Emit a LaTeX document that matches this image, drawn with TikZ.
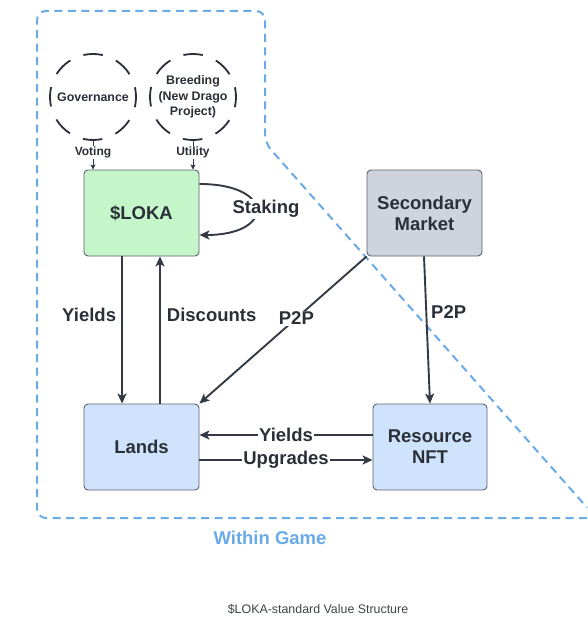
\documentclass[tikz,border=0pt]{standalone}
\usepackage{fontspec}
\setmainfont{Liberation Sans}
\usetikzlibrary{arrows.meta}
\definecolor{ink}{HTML}{2B3038}
\definecolor{edge}{HTML}{343A44}
\definecolor{bord}{HTML}{5C626C}
\definecolor{zone}{HTML}{6AAAE8}
\definecolor{lokagreen}{HTML}{C4F6CA}
\definecolor{smgray}{HTML}{CED3DC}
\definecolor{nftblue}{HTML}{CFE3FC}
\tikzset{
  boxnode/.style={draw=bord, line width=0.9pt, rounded corners=4pt, minimum width=115pt, minimum height=86pt, align=center, font=\fontsize{18.5}{21}\selectfont\bfseries, text=ink, inner sep=2pt},
  ringnode/.style={circle, draw=ink, line width=1.8pt, minimum size=86pt, inner sep=0pt, align=center, font=\fontsize{12.4}{15.5}\selectfont\bfseries, text=ink, dash pattern=on 19.5pt off 14.2pt, dash phase=9.75pt},
  arr/.style={draw=edge, line width=1.9pt, -{Stealth[length=10pt,width=9pt,inset=2.5pt]}},
  smallarr/.style={draw=edge, line width=0.9pt, -{Stealth[length=5pt,width=5pt,inset=1pt]}},
  elabel/.style={font=\fontsize{18.5}{21}\selectfont\bfseries, text=ink, inner sep=1pt},
  slabel/.style={font=\fontsize{12}{14}\selectfont\bfseries, text=ink, fill=white, inner sep=1pt},
  zoneline/.style={draw=zone, line width=2pt, dash pattern=on 8pt off 5.5pt}
}
\begin{document}
\begin{tikzpicture}[x=1pt,y=-1pt]
\useasboundingbox[fill=white] (0,0) rectangle (587,623);
% zone boundary
\draw[zoneline, rounded corners=9pt] (587,518) -- (37,518) -- (37,11) -- (265,11) -- (265,143) -- (587,507.5);
% rings
\node[ringnode] (gov) at (93,97) {Governance};
\node[ringnode] (bre) at (193,97) {Breeding\\(New Drago\\Project)};
% boxes
\node[boxnode, fill=lokagreen] (loka) at (141.5,213) {\$LOKA};
\node[boxnode, fill=smgray] (sm) at (424.5,213) {Secondary\\Market};
\node[boxnode, fill=nftblue] (lands) at (141.5,447) {Lands};
\node[boxnode, fill=nftblue, minimum width=114pt] (nft) at (430,447) {Resource\\NFT};
% small arrows
\draw[smallarr] (gov.south) -- node[slabel, pos=0.4] {Voting} (loka.north -| gov.south);
\draw[smallarr] (bre.south) -- node[slabel, pos=0.4] {Utility} (loka.north -| bre.south);
% staking loop
\draw[arr] ([yshift=29pt]loka.east) .. controls (275,184) and (275,235) .. ([yshift=-22pt]loka.east);
\node[elabel, fill=white] (stk) at (266,209) {Staking};
% yields / discounts
\draw[arr] ([xshift=-19.5pt]loka.south) -- node[elabel, left=4pt, pos=0.4] {Yields} ([xshift=-19.5pt]lands.north);
\draw[arr] ([xshift=18.5pt]lands.north) -- node[elabel, right=5pt, pos=0.6] {Discounts} ([xshift=18.5pt]loka.south);
% P2P
\draw[arr] (sm.south west) -- node[elabel, fill=white, pos=0.42] {P2P} (lands.north east);
\draw[arr] ([xshift=-0.5pt]sm.south) -- node[elabel, right=3pt, pos=0.38] {P2P} ([xshift=0pt]nft.north);
% yields / upgrades
\draw[arr] ([yshift=12pt]nft.west) -- node[elabel, fill=white] {Yields} ([yshift=12pt]lands.east);
\draw[arr] ([yshift=-13pt]lands.east) -- node[elabel, fill=white] {Upgrades} ([yshift=-13pt]nft.west);
% texts
\node[font=\fontsize{18.5}{21}\selectfont\bfseries, text=zone] (wg) at (270,538) {Within Game};
\node[font=\fontsize{12.4}{15}\selectfont, text=ink!90] (cap) at (318,609) {\$LOKA-standard Value Structure};
\end{tikzpicture}
\end{document}
